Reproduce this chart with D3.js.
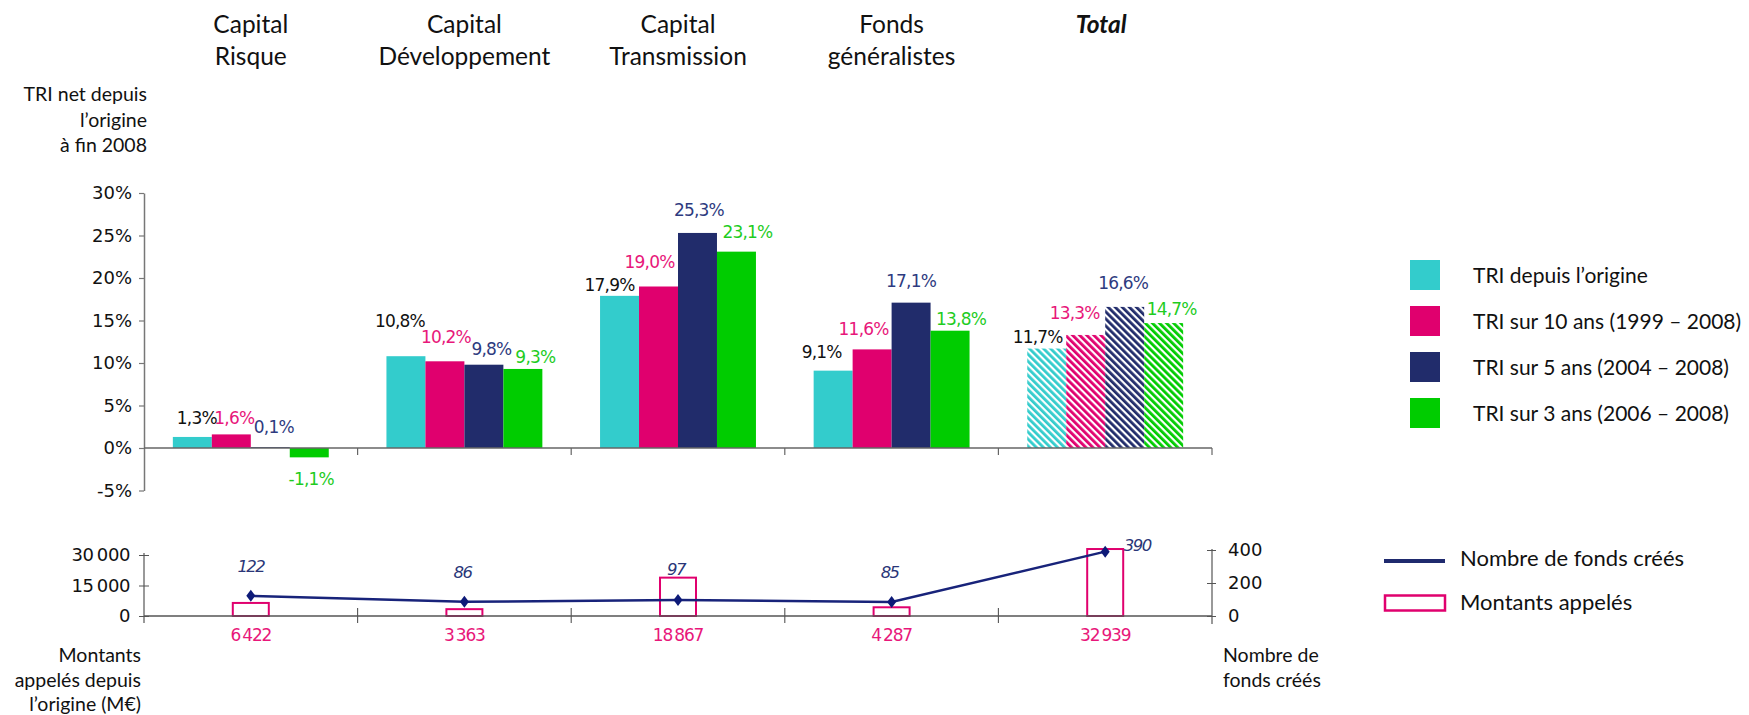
<!DOCTYPE html>
<html>
<head>
<meta charset="utf-8">
<script src="https://cdn.jsdelivr.net/npm/d3@7"></script>
<style>
  html, body { margin: 0; padding: 0; background: #fff; }
  svg { display: block; }
  .cal { font-family: Lato, "Open Sans", sans-serif; fill: #111; }
  .num { font-family: "DejaVu Sans", Verdana, sans-serif; }
</style>
</head>
<body>
<script>
// ---------------- DATA ----------------
const categories = ["Capital Risque", "Capital Développement", "Capital Transmission", "Fonds généralistes", "Total"];
const categoryLines = [["Capital", "Risque"], ["Capital", "Développement"], ["Capital", "Transmission"], ["Fonds", "généralistes"], ["Total"]];
const seriesNames = ["TRI depuis l’origine", "TRI sur 10 ans (1999 – 2008)", "TRI sur 5 ans (2004 – 2008)", "TRI sur 3 ans (2006 – 2008)"];
const triOrigine = [1.3, 10.8, 17.9, 9.1, 11.7];
const tri10ans = [1.6, 10.2, 19.0, 11.6, 13.3];
const tri5ans = [0.1, 9.8, 25.3, 17.1, 16.6];
const tri3ans = [-1.1, 9.3, 23.1, 13.8, 14.7];
const montantsAppeles = [6422, 3363, 18867, 4287, 32939];
const nombreFonds = [122, 86, 97, 85, 390];
const triTicks = [-5, 0, 5, 10, 15, 20, 25, 30];
const montantTicks = [0, 15000, 30000];
const fondsTicks = [0, 200, 400];
const yAxisTitle = ["TRI net depuis", "l’origine", "à fin 2008"];
const leftBottomTitle = ["Montants", "appelés depuis", "l’origine (M€)"];
const rightBottomTitle = ["Nombre de", "fonds créés"];
const bottomLegend = ["Nombre de fonds créés", "Montants appelés"];

// ---------------- STYLE / LAYOUT ----------------
const barColors = ["#33CCCC", "#E0006E", "#212C6B", "#00CC00"];
const labelColors = ["#111111", "#E8177A", "#2E3B80", "#1FCC1F"];
const navyLine = "#18237A";
const pinkOutline = "#E0006E";
// manual data-label nudges (dx from bar centre, distance of label centre from bar end), per category then series
const labelNudge = [
  [[4.5, 19.5], [3, 17], [3.5, 20.5], [2, 21.5]],
  [[-6, 35.7], [1, 24.8], [7.5, 15.7], [12.5, 12.3]],
  [[-10, 11], [-9, 25], [1.5, 23.3], [11, 20]],
  [[-11.5, 19], [-8.5, 20.7], [0, 21.6], [11, 11.7]],
  [[-9, 11.5], [-11, 22.5], [-1.5, 24], [8, 14]]
];
const countNudge = [[0, -30], [-2, -30], [-2, -31], [-2, -30], [32, -7]];

const series = [triOrigine, tri10ans, tri5ans, tri3ans];
const W = 1749, H = 715;

const svg = d3.select("body").append("svg").attr("width", W).attr("height", H);
const defs = svg.append("defs");
barColors.forEach((c, i) => {
  const p = defs.append("pattern").attr("id", "hatch" + i)
    .attr("patternUnits", "userSpaceOnUse").attr("width", 5).attr("height", 10)
    .attr("patternTransform", "rotate(-45)");
  p.append("rect").attr("width", 5).attr("height", 10).attr("fill", "#fff");
  p.append("rect").attr("width", 2.8).attr("height", 10).attr("fill", c);
});

const frFmt = v => d3.format(".1f")(v).replace(".", ",").replace("\u2212", "-") + "%";
const loc = d3.formatLocale({ decimal: ",", thousands: "\u2009", grouping: [3], currency: ["", " €"] });
const thFmt = loc.format(",.0f");

// scales
const x0 = d3.scaleBand().domain(categories).range([144, 1212]).paddingInner(0).paddingOuter(0);
const x1 = d3.scaleBand().domain(d3.range(4)).range([0, x0.bandwidth()]).paddingInner(0).paddingOuter(0.74);
const y = d3.scaleLinear().domain([-5, 30]).range([490.5, 193]);
const yM = d3.scaleLinear().domain([0, 30000]).range([616, 555]);
const yF = d3.scaleLinear().domain([0, 400]).range([616, 550]);

// ---------------- TOP CHART ----------------
categories.forEach((c, ci) => {
  const cx = x0(c) + x0.bandwidth() / 2;
  const t = svg.append("text").attr("class", "cal").attr("text-anchor", "middle")
    .attr("font-size", 24.5);
  categoryLines[ci].forEach((ln, li) => {
    t.append("tspan").attr("x", cx - (ci === 4 ? 4 : 0)).attr("y", 33 + li * 32).text(ln);
  });
  if (ci === 4) t.attr("font-weight", "bold").attr("font-style", "italic");
});

const yt = svg.append("text").attr("class", "cal").attr("text-anchor", "end").attr("font-size", 19.5);
yAxisTitle.forEach((ln, i) => yt.append("tspan").attr("x", 147).attr("y", 101 + i * 25.5).text(ln));

const gBars = svg.append("g");
categories.forEach((c, ci) => {
  series.forEach((s, si) => {
    const v = s[ci];
    gBars.append("rect")
      .attr("x", x0(c) + x1(si))
      .attr("width", x1.bandwidth())
      .attr("y", y(Math.max(0, v)))
      .attr("height", Math.abs(y(v) - y(0)))
      .attr("fill", ci === 4 ? `url(#hatch${si})` : barColors[si]);
  });
});

categories.forEach((c, ci) => {
  series.forEach((s, si) => {
    const v = s[ci];
    const [dx, gap] = labelNudge[ci][si];
    const cx = x0(c) + x1(si) + x1.bandwidth() / 2 + dx;
    const cy = v >= 0 ? y(v) - gap : y(v) + gap;
    svg.append("text").attr("class", "num")
      .attr("x", cx).attr("y", cy + 6.2)
      .attr("text-anchor", "middle").attr("font-size", 17)
      .attr("letter-spacing", "-0.8px")
      .attr("fill", labelColors[si]).text(frFmt(v));
  });
});

const yAxis = d3.axisLeft(y).tickValues(triTicks).tickFormat(d => d + "%").tickSize(5).tickSizeOuter(0).tickPadding(7);
const gy = svg.append("g").attr("transform", "translate(144,0)").call(yAxis);
gy.select(".domain").attr("stroke", "#777").attr("stroke-width", 1.5);
gy.selectAll(".tick line").attr("stroke", "#777").attr("stroke-width", 1.2);
gy.selectAll(".tick text").attr("class", "num").attr("font-size", 18).attr("fill", "#111");

svg.append("line").attr("x1", x0.range()[0]).attr("x2", x0.range()[1])
  .attr("y1", y(0)).attr("y2", y(0)).attr("stroke", "#666").attr("stroke-width", 1.5);
const bounds = categories.slice(1).map(c => x0(c)).concat([x0.range()[1]]);
svg.selectAll(".xtick").data(bounds).enter().append("line")
  .attr("x1", d => d).attr("x2", d => d).attr("y1", y(0)).attr("y2", y(0) + 7)
  .attr("stroke", "#666").attr("stroke-width", 1.2);

seriesNames.forEach((n, i) => {
  const ly = 260 + i * 46;
  svg.append("rect").attr("x", 1410).attr("y", ly).attr("width", 30).attr("height", 30).attr("fill", barColors[i]);
  svg.append("text").attr("class", "cal").attr("x", 1473).attr("y", ly + 23).attr("font-size", 21).text(n);
});

// ---------------- BOTTOM CHART ----------------
categories.forEach((c, ci) => {
  const cx = x0(c) + x0.bandwidth() / 2;
  const bw = 36;
  svg.append("rect").attr("x", cx - bw / 2).attr("width", bw)
    .attr("y", yM(montantsAppeles[ci])).attr("height", yM(0) - yM(montantsAppeles[ci]))
    .attr("fill", "#fff").attr("stroke", pinkOutline).attr("stroke-width", 2);
  svg.append("text").attr("class", "num").attr("x", cx).attr("y", yM(0) + 25)
    .attr("text-anchor", "middle").attr("font-size", 17).attr("letter-spacing", "-1.2px")
    .attr("fill", "#E8177A").text(thFmt(montantsAppeles[ci]));
});

svg.append("line").attr("x1", x0.range()[0]).attr("x2", x0.range()[1])
  .attr("y1", yM(0)).attr("y2", yM(0)).attr("stroke", "#555").attr("stroke-width", 1.3);
svg.selectAll(".xtick2").data(categories.slice(1).map(c => x0(c))).enter().append("line")
  .attr("x1", d => d).attr("x2", d => d).attr("y1", yM(0) - 8).attr("y2", yM(0) + 7)
  .attr("stroke", "#555").attr("stroke-width", 1.1);

const axM = d3.axisLeft(yM).tickValues(montantTicks).tickFormat(thFmt).tickSize(5).tickSizeOuter(0).tickPadding(9);
const gm = svg.append("g").attr("transform", "translate(144,0)").call(axM);
gm.select(".domain").remove();
gm.append("line").attr("x1", 0).attr("x2", 0).attr("y1", yM(30000) - 2).attr("y2", yM(0) + 7).attr("stroke", "#555").attr("stroke-width", 1.2);
gm.selectAll(".tick line").attr("x1", 5).attr("stroke", "#555");
gm.selectAll(".tick text").attr("class", "num").attr("font-size", 18).attr("fill", "#111").attr("letter-spacing", "-0.4px");

const axF = d3.axisRight(yF).tickValues(fondsTicks).tickFormat(d3.format("d")).tickSize(4).tickSizeOuter(0).tickPadding(12);
const gf = svg.append("g").attr("transform", "translate(1212,0)").call(axF);
gf.select(".domain").remove();
gf.append("line").attr("x1", 0).attr("x2", 0).attr("y1", yF(400) - 1).attr("y2", yF(0) + 8).attr("stroke", "#555").attr("stroke-width", 1.2);
gf.selectAll(".tick line").attr("x1", -5).attr("stroke", "#555");
gf.selectAll(".tick text").attr("class", "num").attr("font-size", 18).attr("fill", "#111");

const linePts = categories.map((c, ci) => [x0(c) + x0.bandwidth() / 2, yF(nombreFonds[ci])]);
svg.append("path").attr("d", d3.line()(linePts)).attr("fill", "none")
  .attr("stroke", navyLine).attr("stroke-width", 2.5);
svg.selectAll(".dia").data(linePts).enter().append("path")
  .attr("transform", d => `translate(${d[0]},${d[1]})`)
  .attr("d", "M0,-6L4.5,0L0,6L-4.5,0Z").attr("fill", "#0D1A78");
linePts.forEach((p, i) => {
  svg.append("text").attr("class", "num").attr("x", p[0] + countNudge[i][0]).attr("y", p[1] + countNudge[i][1] + 6)
    .attr("text-anchor", "middle").attr("font-size", 16.5).attr("font-style", "italic")
    .attr("letter-spacing", "-1.6px").attr("fill", "#2A3678").text(nombreFonds[i]);
});

const lb = svg.append("text").attr("class", "cal").attr("text-anchor", "end").attr("font-size", 19.5);
leftBottomTitle.forEach((ln, i) => lb.append("tspan").attr("x", 141).attr("y", 662 + i * 24.5).text(ln));
const rb = svg.append("text").attr("class", "cal").attr("text-anchor", "start").attr("font-size", 19.5);
rightBottomTitle.forEach((ln, i) => rb.append("tspan").attr("x", 1223).attr("y", 662 + i * 24.5).text(ln));

svg.append("line").attr("x1", 1384).attr("x2", 1445).attr("y1", 561).attr("y2", 561)
  .attr("stroke", "#1F2A6E").attr("stroke-width", 4);
svg.append("text").attr("class", "cal").attr("x", 1460).attr("y", 566).attr("font-size", 22).text(bottomLegend[0]);
svg.append("rect").attr("x", 1385).attr("y", 595.5).attr("width", 60).attr("height", 15)
  .attr("fill", "#fff").attr("stroke", pinkOutline).attr("stroke-width", 2.5);
svg.append("text").attr("class", "cal").attr("x", 1460).attr("y", 610).attr("font-size", 22).text(bottomLegend[1]);
</script>
</body>
</html>
